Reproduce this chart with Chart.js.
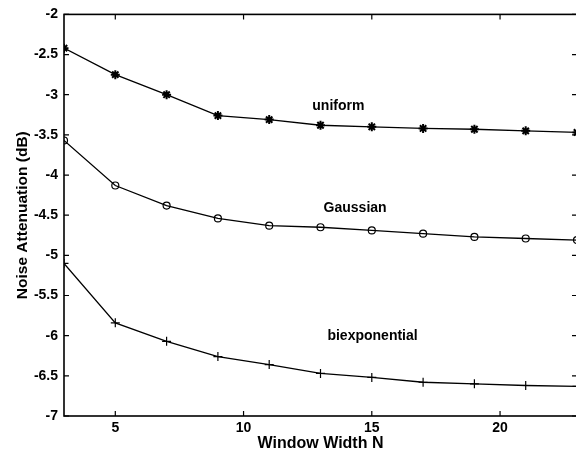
<!DOCTYPE html>
<html>
<head>
<meta charset="utf-8">
<script src="https://cdn.jsdelivr.net/npm/chart.js@4/dist/chart.umd.min.js"></script>
<style>
  html, body { margin: 0; padding: 0; background: #fff; overflow: hidden; }
  #wrap { width: 576px; height: 456px; overflow: hidden; position: relative; }
  canvas { display: block; }
</style>
</head>
<body>
<div id="wrap"><canvas id="c" width="590" height="456"></canvas></div>
<script>
// ---- data ----
const windowWidths = [3, 5, 7, 9, 11, 13, 15, 17, 19, 21, 23];
const uniformValues = [-2.42, -2.75, -3.00, -3.26, -3.31, -3.38, -3.40, -3.42, -3.43, -3.45, -3.47];
const gaussianValues = [-3.57, -4.13, -4.38, -4.54, -4.63, -4.65, -4.69, -4.73, -4.77, -4.79, -4.81];
const biexponentialValues = [-5.10, -5.84, -6.07, -6.26, -6.36, -6.47, -6.52, -6.58, -6.60, -6.62, -6.63];
const xTickValues = [5, 10, 15, 20];
const seriesNames = ['uniform', 'Gaussian', 'biexponential'];
const labelX = [12.68, 13.12, 13.27];
const labelY = [-3.185, -4.457, -6.05];
const xTitle = 'Window Width N';
const yTitle = 'Noise Attenuation (dB)';

const FONT = '"Liberation Sans", Arial, Helvetica, sans-serif';

function pts(vals) { return windowWidths.map((x, i) => ({ x: x, y: vals[i] })); }

const frameAndTicks = {
  id: 'frameAndTicks',
  afterDatasetsDraw(chart) {
    const ctx = chart.ctx;
    const a = chart.chartArea;
    const xs = chart.scales.x, ys = chart.scales.y;
    ctx.save();
    ctx.strokeStyle = '#000';
    ctx.lineWidth = 1.6;
    ctx.strokeRect(a.left, a.top, a.right - a.left, a.bottom - a.top);
    ctx.lineWidth = 1.2;
    const tl = 5;
    ctx.beginPath();
    xTickValues.forEach(v => {
      const px = xs.getPixelForValue(v);
      ctx.moveTo(px, a.bottom); ctx.lineTo(px, a.bottom - tl);
      ctx.moveTo(px, a.top); ctx.lineTo(px, a.top + tl);
    });
    ys.ticks.forEach(t => {
      const py = ys.getPixelForValue(t.value);
      ctx.moveTo(a.left, py); ctx.lineTo(a.left + tl, py);
      ctx.moveTo(a.right, py); ctx.lineTo(a.right - tl, py);
    });
    ctx.stroke();
    // series labels
    ctx.fillStyle = '#000';
    ctx.font = 'bold 14px ' + FONT;
    ctx.textAlign = 'left';
    ctx.textBaseline = 'alphabetic';
    seriesNames.forEach((n, i) => {
      ctx.fillText(n, xs.getPixelForValue(labelX[i]), ys.getPixelForValue(labelY[i]));
    });
    ctx.restore();
  }
};

const common = { borderColor: '#000', backgroundColor: 'rgba(0,0,0,0)', borderWidth: 1.3,
  pointBorderColor: '#000', pointBackgroundColor: 'rgba(0,0,0,0)', pointBorderWidth: 1.2, tension: 0 };

new Chart(document.getElementById('c'), {
  type: 'line',
  data: {
    datasets: [
      Object.assign({ label: seriesNames[0], data: pts(uniformValues), pointStyle: 'star', pointRadius: 4.5 }, common, { pointBorderWidth: 2 }),
      Object.assign({ label: seriesNames[1], data: pts(gaussianValues), pointStyle: 'circle', pointRadius: 3.5 }, common),
      Object.assign({ label: seriesNames[2], data: pts(biexponentialValues), pointStyle: 'cross', pointRadius: 4.5 }, common)
    ]
  },
  options: {
    responsive: false,
    devicePixelRatio: 1,
    animation: false,
    layout: { padding: { top: 11, right: 13, left: 0, bottom: 0 } },
    plugins: { legend: { display: false }, tooltip: { enabled: false } },
    scales: {
      x: {
        type: 'linear', min: 3, max: 23,
        afterBuildTicks: s => { s.ticks = xTickValues.map(v => ({ value: v })); },
        afterFit: s => { s.height = 40; },
        grid: { display: false, drawTicks: false },
        border: { display: false },
        ticks: { color: '#000', padding: 4, font: { family: FONT, size: 14, weight: 'bold' },
                 callback: v => String(v) },
        title: { display: true, text: xTitle, color: '#000', padding: { top: 0, bottom: 3 },
                 font: { family: FONT, size: 16, weight: 'bold' } }
      },
      y: {
        type: 'linear', min: -7, max: -2,
        ticks: { stepSize: 0.5, color: '#000', padding: 6, font: { family: FONT, size: 14, weight: 'bold' },
                 callback: v => String(v) },
        afterFit: s => { s.width = 64; },
        grid: { display: false, drawTicks: false },
        border: { display: false },
        title: { display: true, text: yTitle, color: '#000', padding: { top: 13, bottom: 0 },
                 font: { family: FONT, size: 15.5, weight: 'bold' } }
      }
    }
  },
  plugins: [frameAndTicks]
});
</script>
</body>
</html>
